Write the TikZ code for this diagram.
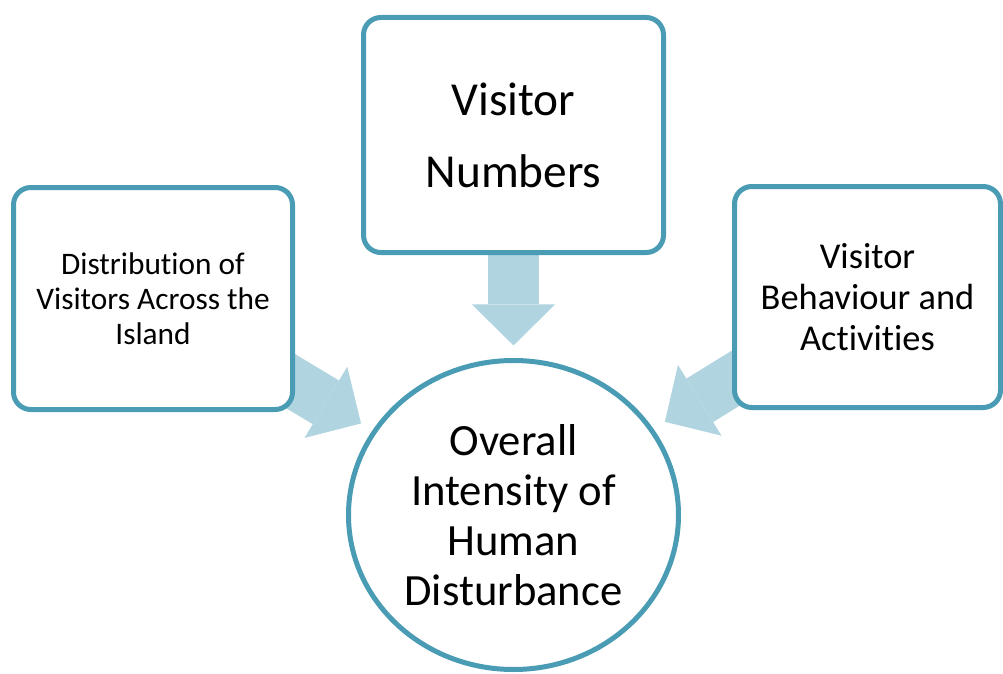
\documentclass[tikz,border=0pt]{standalone}
\usepackage{fontspec}
\setmainfont{Carlito}[Ligatures=NoCommon]
\usetikzlibrary{shapes.geometric,arrows.meta,backgrounds}

\definecolor{rimblue}{RGB}{74,156,181}
\definecolor{arrowblue}{RGB}{176,212,224}

\tikzset{
	factorbox/.style={draw=rimblue, line width=3.75pt, fill=white, rounded corners=13pt, align=center, inner sep=0pt},
	fatarrow/.style={arrowblue, line width=38.25pt, -{Triangle[width=62.25pt,length=30.75pt,line width=0pt]}},
}

\begin{document}
\begin{tikzpicture}[x=0.75pt,y=-0.75pt]
		\useasboundingbox (0,0) rectangle (1003,674);
		
		% the three factors
		\node[factorbox, minimum width=225pt, minimum height=176.25pt,
			font=\fontsize{35.5}{54}\selectfont] (numbers) at (513.5,135)
			{Visitor\\Numbers};
		\node[factorbox, minimum width=209.25pt, minimum height=166.5pt,
			font=\fontsize{23.5}{26.25}\selectfont] (spread) at (153,298.5)
			{Distribution of\\Visitors Across the\\Island};
		\node[factorbox, minimum width=199.5pt, minimum height=165.75pt,
			font=\fontsize{27.3}{30.75}\selectfont] (behaviour) at (867.5,297)
			{Visitor\\Behaviour and\\Activities};
		
		% the result
		\node[ellipse, draw=rimblue, line width=3.75pt, fill=white, inner sep=0pt, align=center,
			minimum width=247.5pt, minimum height=231.75pt,
			font=\fontsize{33.5}{37.5}\selectfont] (intensity) at (513.5,515)
			{Overall\\Intensity of\\Human\\Disturbance};
		
		\begin{scope}[on background layer]
			\draw[fatarrow, shorten >=9.4pt] (numbers) -- (intensity);
			\draw[fatarrow, shorten >=10pt] (spread.center) -- (intensity);
			\draw[fatarrow, shorten >=10pt] (behaviour.center) -- (intensity);
		\end{scope}
		
	\end{tikzpicture}
\end{document}
